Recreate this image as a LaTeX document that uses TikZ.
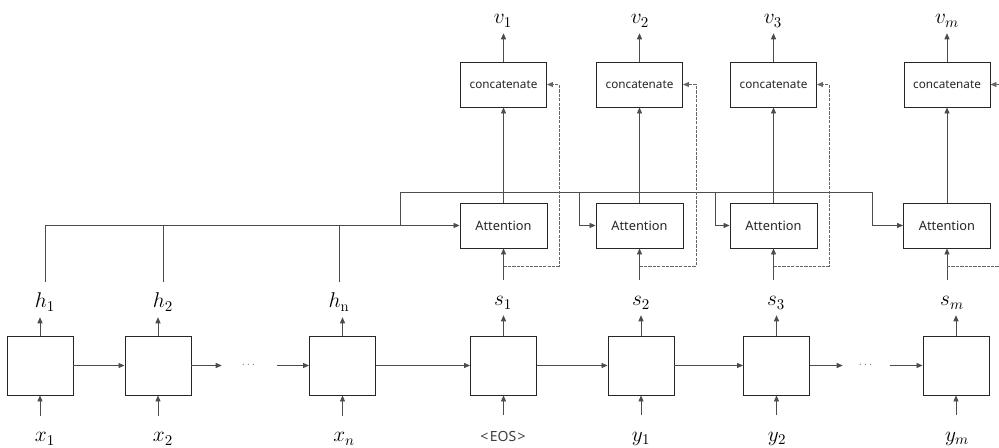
\RequirePackage{fix-cm}
\documentclass[tikz,border=0pt]{standalone}
\usepackage{amsmath,amssymb}
\usepackage{fontspec}
\newfontfamily\boxfont{Noto Sans}
\usetikzlibrary{arrows.meta}

\begin{document}
\begin{tikzpicture}[x=0.75pt,y=0.75pt,yscale=-1,xscale=1,
  tip/.style={-{Triangle[length=4.5pt,width=3.8pt]}},
  wire/.style={draw=black!70,line width=0.6pt},
  fb/.style={draw=black!60,line width=0.6pt,dash pattern=on 2.5pt off 0.8pt},
  cell/.style={draw=black!85,line width=0.7pt,inner sep=0pt,minimum width=49.5pt,minimum height=44.25pt},
  attn/.style={draw=black!85,line width=0.7pt,inner sep=0pt,minimum width=65.25pt,minimum height=33.75pt,text=black!85,font=\boxfont\fontsize{9.6}{11}\selectfont},
  concat/.style={attn,minimum width=64.5pt,font=\boxfont\fontsize{8.8}{10}\selectfont},
  var/.style={anchor=base,inner xsep=1pt,inner ysep=2pt,text height=17.5pt,text depth=4.75pt,font=\fontsize{16}{18}\selectfont},
  eosvar/.style={var,text=black!75,font=\boxfont\fontsize{10.5}{12}\selectfont},
  dotsbox/.style={inner sep=0pt,minimum height=10pt,text=black!60,font=\fontsize{8}{9}\selectfont}]
\useasboundingbox (0,0) rectangle (999,448);

% Encoder cells
\node [cell] (e1) at (40,365.5) {};
\node [cell] (e2) at (158,365.5) {};
\node [dotsbox,minimum width=41.25pt] (ed) at (249.5,365.5) {$\cdots$};
\node [cell] (en) at (342.5,365.5) {};
% Decoder cells
\node [cell] (d1) at (503.5,365.5) {};
\node [cell] (d2) at (641,365.5) {};
\node [cell] (d3) at (776.5,365.5) {};
\node [dotsbox,minimum width=35.25pt] (dd) at (866.5,365.5) {$\cdots$};
\node [cell] (dm) at (956,365.5) {};

% Attention and concatenate
\node [attn] (a1) at (503.5,225.5) {Attention};
\node [attn] (a2) at (639.5,225.5) {Attention};
\node [attn] (a3) at (773.5,225.5) {Attention};
\node [attn] (am) at (947,225.5) {Attention};
\node [concat] (c1) at (503.5,84.5) {concatenate};
\node [concat] (c2) at (639.5,84.5) {concatenate};
\node [concat] (c3) at (773.5,84.5) {concatenate};
\node [concat] (cm) at (947,84.5) {concatenate};

% Text Node
\node [var] (x1) at (45,442) {$x_{1}$};
\node [var] (x2) at (163,442) {$x_{2}$};
\node [var] (xn) at (344,442) {$x_{n}$};
\node [eosvar] (eos) at (503,441) {<\kern1pt EOS\kern1pt>};
\node [var] (y1) at (641,441) {$y_{1}$};
\node [var] (y2) at (777,441) {$y_{2}$};
\node [var] (ym) at (957,441) {$y_{m}$};
% Text Node
\node [var] (h1) at (45,308) {$h_{1}$};
\node [var] (h2) at (163,308) {$h_{2}$};
\node [var] (hn) at (339,308) {$h_{\mathrm{n}}$};
\node [var] (s1) at (503,306) {$s_{1}$};
\node [var] (s2) at (641,306) {$s_{2}$};
\node [var] (s3) at (776,306) {$s_{3}$};
\node [var] (sm) at (952,306) {$s_{m}$};
% Text Node
\node [var] (v1) at (503,24) {$v_{1}$};
\node [var] (v2) at (640,24) {$v_{2}$};
\node [var] (v3) at (773,24) {$v_{3}$};
\node [var] (vm) at (947,24) {$v_{m}$};

% bus and feedback corners
\coordinate (j0) at (400,192);
\coordinate (j2) at (579,192);
\coordinate (j3) at (715,192);
\coordinate (jm) at (872,192);
\coordinate (fb1) at (559,266);
\coordinate (fb2) at (696,266);
\coordinate (fb3) at (829,266);
\coordinate (fbm) at (999,266);

% recurrent chain
\draw [wire,tip] (e1) -- (e2);
\draw [wire,tip] (e2) -- (ed);
\draw [wire,tip] (ed) -- (en);
\draw [wire,tip] (en) -- (d1);
\draw [wire,tip] (d1) -- (d2);
\draw [wire,tip] (d2) -- (d3);
\draw [wire,tip] (d3) -- (dd);
\draw [wire,tip] (dd) -- (dm);

% inputs and outputs of the cells
\foreach \c/\l in {e1/x1,e2/x2,en/xn,d1/eos,d2/y1,d3/y2,dm/ym}
  \draw [wire,tip] (\c.south |- \l.north) -- (\c.south);
\foreach \c/\l in {e1/h1,e2/h2,en/hn,d1/s1,d2/s2,d3/s3,dm/sm}
  \draw [wire,tip] (\c.north) -- (\c.north |- \l.south);

% decoder states into attention, attention into concatenate
\foreach \a/\l/\c/\v in {a1/s1/c1/v1,a2/s2/c2/v2,a3/s3/c3/v3,am/sm/cm/vm}{
  \draw [wire,tip] (\a.south |- \l.north) -- (\a.south);
  \draw [wire,tip] (\a) -- (\c);
  \draw [wire,tip] (\c.north) -- (\c.north |- \v.south);
}

% encoder states bus
\draw [wire,tip] (h1.north) |- (a1.west);
\draw [wire] (h2.north) -- (h2.north |- a1.west);
\draw [wire] (hn.north) -- (hn.north |- a1.west);
\draw [wire] (j0 |- a1.west) -- (j0) -- (jm);
\draw [wire,tip] (j2) |- (a2.west);
\draw [wire,tip] (j3) |- (a3.west);
\draw [wire,tip] (jm) |- (am.west);

% s_t fed to concatenate
\draw [fb,tip] (a1.south |- fb1) -- (fb1) |- (c1.east);
\draw [fb,tip] (a2.south |- fb2) -- (fb2) |- (c2.east);
\draw [fb,tip] (a3.south |- fb3) -- (fb3) |- (c3.east);
\draw [fb] (am.south |- fbm) -- (fbm);
\draw [fb,tip] (fbm |- cm.east) -- (cm.east);

\end{tikzpicture}
\end{document}
